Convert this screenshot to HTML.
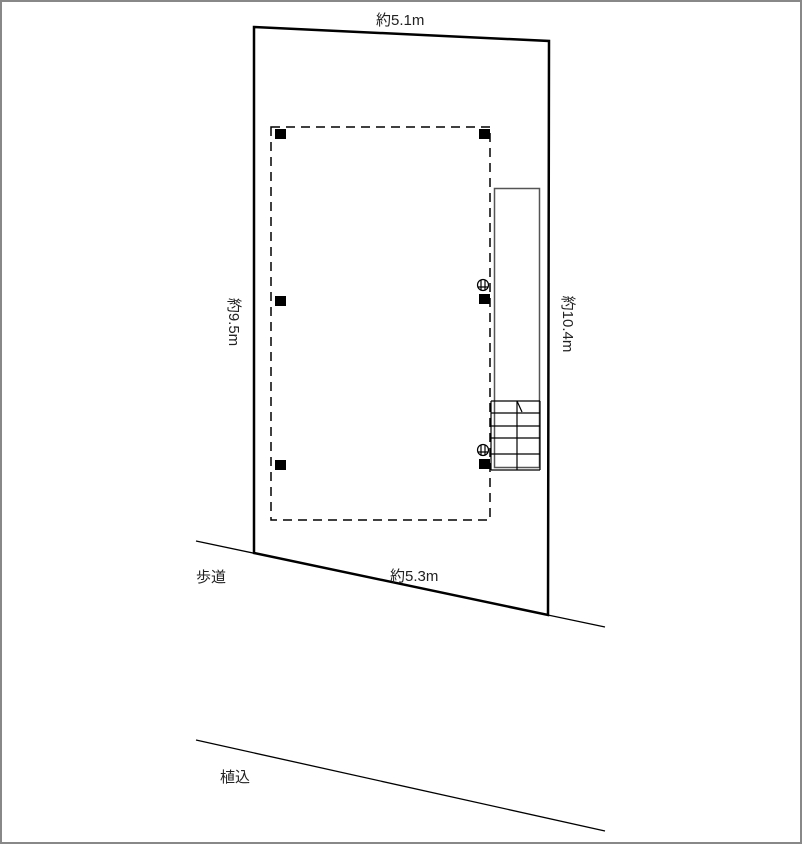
<!DOCTYPE html>
<html><head><meta charset="utf-8"><style>
body{margin:0;background:#fff}
svg{display:block}
text{font-family:"Liberation Sans","Noto Sans CJK JP",sans-serif;font-size:15px;fill:#222}
</style></head><body>
<svg width="802" height="844" viewBox="0 0 802 844" xmlns="http://www.w3.org/2000/svg">
<rect x="1" y="1" width="800" height="842" fill="#fff" stroke="#888" stroke-width="2"/>
<polygon points="254,27 549,41 548,615 254,553" fill="none" stroke="#000" stroke-width="2.5"/>
<line x1="196" y1="541" x2="605" y2="627" stroke="#000" stroke-width="1.3"/>
<line x1="196" y1="740" x2="605" y2="831" stroke="#000" stroke-width="1.3"/>
<rect x="271" y="127" width="219" height="393" fill="none" stroke="#000" stroke-width="1.5" stroke-dasharray="9,6"/>
<rect x="494.5" y="188.5" width="45" height="279" fill="none" stroke="#555" stroke-width="1.5"/>
<g fill="#000">
<rect x="275" y="129" width="11" height="10"/><rect x="479" y="129" width="11" height="10"/>
<rect x="275" y="296" width="11" height="10"/><rect x="479" y="294" width="11" height="10"/>
<rect x="275" y="460" width="11" height="10"/><rect x="479" y="459" width="11" height="10"/>
</g>
<g stroke="#000" stroke-width="1.2" fill="none">
<path d="M491 401H540M491 413H540M491 426H540M491 438H540M491 454H540M491 470H540M491 401V470M540 401V470"/>
<line x1="517" y1="401" x2="517" y2="470"/>
<line x1="517" y1="401" x2="522" y2="412"/>
<circle cx="483" cy="285" r="5.5"/><path d="M481 280V290M485 280V290M477.5 287H488.5"/>
<circle cx="483" cy="450" r="5.5"/><path d="M481 445V455M485 445V455M477.5 452H488.5"/>
</g>
<text x="376" y="25">約5.1m</text>
<text x="390" y="581">約5.3m</text>
<text x="196" y="582">歩道</text>
<text x="220" y="782">植込</text>
<text transform="translate(229,322) rotate(90)" text-anchor="middle">約9.5m</text>
<text transform="translate(563,324) rotate(90)" text-anchor="middle">約10.4m</text>
</svg>
</body></html>
